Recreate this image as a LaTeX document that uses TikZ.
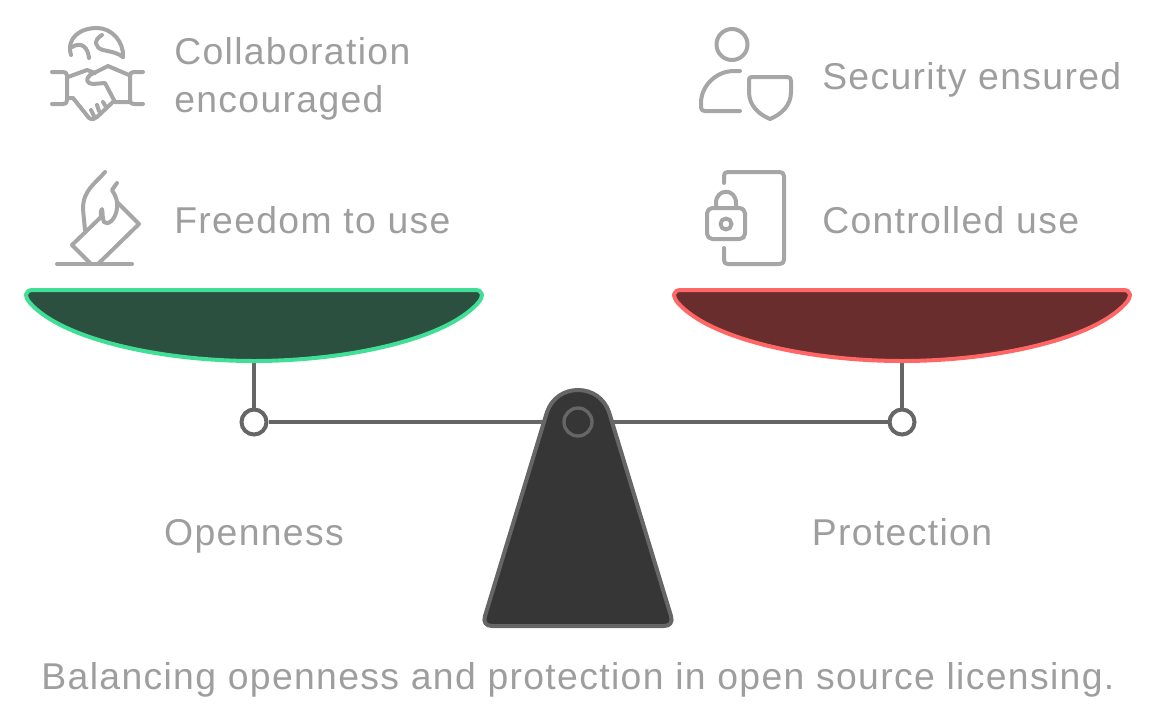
\documentclass[tikz,border=0pt]{standalone}
\usepackage{fontspec}
\setmainfont[LetterSpace=3.6]{Liberation Sans}
\usepackage{tikz}
\usetikzlibrary{positioning,calc}
\definecolor{scaleGray}{HTML}{666666}
\definecolor{scaleDark}{HTML}{363636}
\definecolor{textGray}{HTML}{9E9E9E}
\definecolor{iconGray}{HTML}{A6A6A6}
\definecolor{openLine}{HTML}{40DE96}
\definecolor{openFill}{HTML}{2B503F}
\definecolor{protLine}{HTML}{FF6666}
\definecolor{protFill}{HTML}{692D2D}
\tikzset{
  px/.style={x=0.75pt,y=-0.75pt},
  label/.style={text=textGray,inner sep=0pt,align=left},
  icon/.style={draw=iconGray,line width=3pt,line cap=round,line join=round},
  beam/.style={draw=scaleGray,line width=3pt},
  pivot/.style={circle,draw=scaleGray,fill=white,line width=3pt,minimum size=18.75pt,inner sep=0pt},
  pan/.style={line width=3pt,line join=round},
}
\begin{document}
\begin{tikzpicture}[px,font=\fontsize{28pt}{36pt}\selectfont]
  \useasboundingbox (0,0) rectangle (1156,722);
  % beam and pans
  \coordinate (beamC) at (578,422);
  \node[pivot] (pivotL) at (254,422) {};
  \node[pivot] (pivotR) at (902,422) {};
  \draw[beam] (pivotL) -- (beamC) -- (pivotR);
  \draw[beam] (254,360) -- (pivotL);
  \draw[beam] (902,360) -- (pivotR);
  \draw[pan,draw=openLine,fill=openFill]
    (33,290) -- (475,290) .. controls (483,290) and (484,296) .. (478,303)
    .. controls (445,340) and (345,361) .. (254,361)
    .. controls (163,361) and (63,340) .. (30,303)
    .. controls (24,296) and (25,290) .. (33,290) -- cycle;
  \draw[pan,draw=protLine,fill=protFill]
    (681,290) -- (1123,290) .. controls (1131,290) and (1132,296) .. (1126,303)
    .. controls (1093,340) and (993,361) .. (902,361)
    .. controls (811,361) and (711,340) .. (678,303)
    .. controls (672,296) and (673,290) .. (681,290) -- cycle;
  % stand
  \draw[draw=scaleGray,fill=scaleDark,line width=3pt,line join=round]
    (547,412) .. controls (552,398) and (564,390) .. (578,390)
    .. controls (592,390) and (604,398) .. (609,412)
    -- (671,616) .. controls (673,622) and (670,626) .. (664,626)
    -- (492,626) .. controls (486,626) and (483,622) .. (485,616) -- cycle;
  \node[circle,draw=scaleGray,line width=2.5pt,minimum size=21pt,inner sep=0pt] (hub) at (beamC) {};
  % left icons
  \draw[icon] (71,55) .. controls (66,38) and (80,28) .. (97,28) .. controls (112,28) and (124,42) .. (123,57);
  \draw[icon] (72,47) .. controls (82,41) and (88,48) .. (89,58);
  \draw[icon] (102,35) .. controls (93,40) and (95,48) .. (103,50) .. controls (112,52) and (118,53) .. (123,57);
  \draw[icon] (52,72) -- (63,72) .. controls (66,72) and (67,73) .. (67,76) -- (67,100) .. controls (67,103) and (66,104) .. (63,104) -- (52,104);
  \draw[icon] (143,72) -- (134,72) .. controls (131,72) and (130,73) .. (130,76) -- (130,100) .. controls (130,103) and (131,104) .. (134,104) -- (143,104);
  \draw[icon] (68,77) -- (87,70) -- (95,73);
  \draw[icon] (129,75) -- (108,66) -- (90,75) .. controls (85,79) and (87,84) .. (93,84) -- (105,83) -- (115,102) -- (129,102);
  \draw[icon] (68,98) -- (73,98) -- (85,113) -- (89,118) .. controls (92,120) and (95,119) .. (97,117) -- (114,101);
  \draw[icon] (91,110) -- (94,116) (97,105) -- (99,111) (103,102) -- (106,107);
  \draw[icon] (105,172) .. controls (95,184) and (83,190) .. (83,209) -- (85,230);
  \draw[icon] (117,183) -- (112,190) .. controls (116,196) and (118,202) .. (117,208) .. controls (116,220) and (107,226) .. (104,222) .. controls (102,218) and (103,212) .. (102,209) .. controls (100,212) and (101,216) .. (101,217);
  \draw[icon] (101,217) -- (72,245) -- (90,263) (117,202) -- (139,224) -- (99,263);
  \draw[icon] (57,264) -- (132,264);
  % right icons
  \draw[icon] (732,44.5) circle (15.5);
  \draw[icon] (740,71) -- (734,71) .. controls (716,71) and (701,86) .. (701,103) -- (701,107) .. controls (701,110) and (702,111) .. (705,111) -- (740,111);
  \draw[icon] (752,77) -- (787,77) .. controls (790,77) and (791,78) .. (791,81) -- (791,92)
    .. controls (791,105) and (782,114) .. (770,119) .. controls (758,114) and (749,105) .. (749,92) -- (749,81) .. controls (749,78) and (749,77) .. (752,77) -- cycle;
  \draw[icon] (724,183) -- (724,176) .. controls (724,173) and (725,172) .. (728,172) -- (779,172) .. controls (782,172) and (784,173) .. (784,176)
    -- (784,260) .. controls (784,263) and (782,264) .. (779,264) -- (728,264) .. controls (725,264) and (724,263) .. (724,260) -- (724,248);
  \draw[icon,rounded corners=4pt] (707,208) rectangle (745,239);
  \draw[icon] (716,207) -- (716,203) .. controls (716,188) and (736,188) .. (736,203) -- (736,207);
  \draw[icon] (726,224) circle (5.5);
  % labels
  \node[label,anchor=west] (collab) at (174,79) {Collaboration\\encouraged};
  \node[label,anchor=base west] (freedom) at (174,233) {Freedom to use};
  \node[label,anchor=base west] (security) at (822,89) {Security ensured};
  \node[label,anchor=base west] (controlled) at (822,233) {Controlled use};
  \node[label,anchor=base] (openness) at (254,545) {Openness};
  \node[label,anchor=base] (protection) at (902,545) {Protection};
  \node[label,anchor=base] (caption) at (578,689) {Balancing openness and protection in open source licensing.};
\end{tikzpicture}
\end{document}
